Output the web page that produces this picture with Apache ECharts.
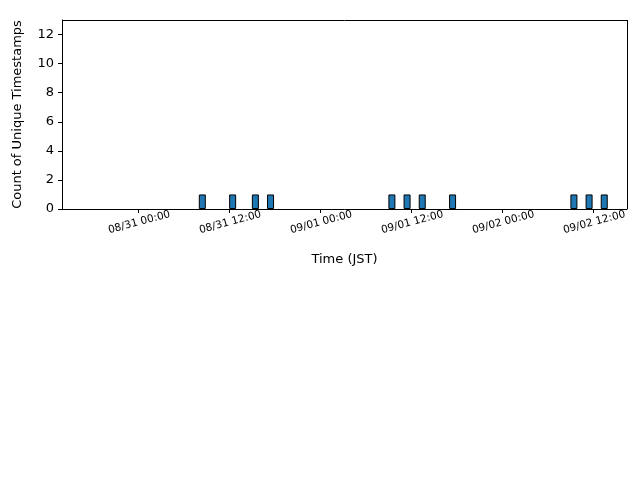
<!DOCTYPE html>
<html><head><meta charset="utf-8">
<script src="https://cdn.jsdelivr.net/npm/echarts@6/dist/echarts.min.js"></script>
</head><body style="margin:0">
<div id="c" style="width:640px;height:480px"></div>
<script>
// hours since 08/31 00:00 JST (bin centers)
const binHours = [8.5, 12.5, 15.5, 17.5, 33.5, 35.5, 37.5, 41.5, 57.5, 59.5, 61.5];
const counts = [1, 1, 1, 1, 1, 1, 1, 1, 1, 1, 1];
const tickHours = [0, 12, 24, 36, 48, 60];
const tickLabels = ['08/31 00:00', '08/31 12:00', '09/01 00:00', '09/01 12:00', '09/02 00:00', '09/02 12:00'];
const yTicks = [0, 2, 4, 6, 8, 10, 12];
const chart = echarts.init(document.getElementById('c'));
chart.setOption({
  animation: false,
  grid: {left: 62, right: 13, top: 20, bottom: 271},
  xAxis: {
    type: 'value', min: -10, max: 64.5,
    name: 'Time (JST)', nameLocation: 'middle', nameGap: 44,
    nameTextStyle: {fontFamily: 'DejaVu Sans', fontSize: 13, color: '#000'},
    axisLine: {show: true, onZero: false, lineStyle: {color: '#000'}},
    splitLine: {show: false},
    axisTick: {show: true, customValues: tickHours, length: 4, lineStyle: {color: '#000'}},
    axisLabel: {customValues: tickHours, formatter: v => tickLabels[tickHours.indexOf(v)] || '',
      rotate: 15, align: 'center', verticalAlign: 'top', fontSize: 10.5, color: '#000', fontFamily: 'DejaVu Sans', margin: 8}
  },
  yAxis: {
    type: 'value', min: 0, max: 13,
    name: 'Count of Unique Timestamps', nameLocation: 'middle', nameGap: 38,
    nameTextStyle: {fontFamily: 'DejaVu Sans', fontSize: 13, color: '#000'},
    axisLine: {show: true, onZero: false, lineStyle: {color: '#000'}},
    splitLine: {show: false},
    axisTick: {show: true, customValues: yTicks, length: 4, lineStyle: {color: '#000'}},
    axisLabel: {customValues: yTicks, fontSize: 13, color: '#000', fontFamily: 'DejaVu Sans'}
  },
  series: [{
    type: 'bar', barWidth: 7,
    data: binHours.map((h, i) => [h, counts[i]]),
    itemStyle: {color: '#1f77b4', borderColor: '#000', borderWidth: 1}
  }, {
    type: 'line', data: [], markLine: {silent: true, symbol: 'none', label: {show: false},
      lineStyle: {color: '#000', type: 'solid', width: 1}, data: [{xAxis: 64.5}, {yAxis: 13}]}
  }]
});
</script></body></html>
